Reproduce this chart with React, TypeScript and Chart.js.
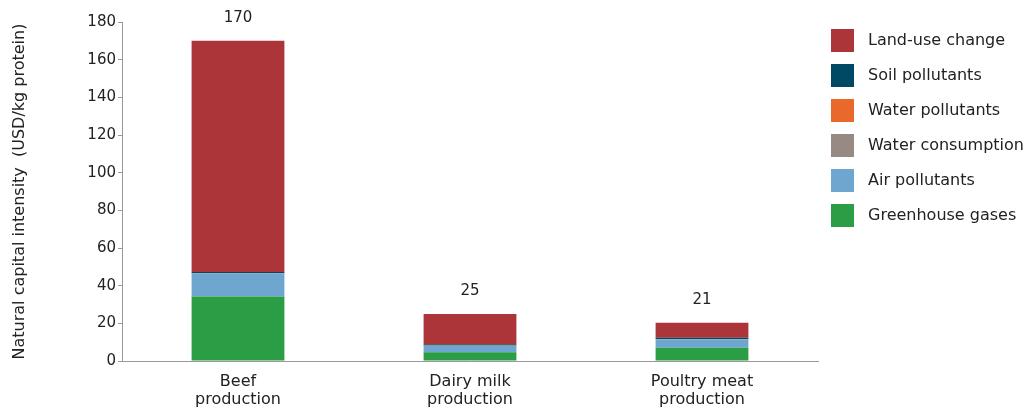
import React, { useEffect, useRef } from "react";
import { Chart, registerables } from "chart.js";

Chart.register(...registerables);

const categories: string[][] = [["Beef", "production"], ["Dairy milk", "production"], ["Poultry meat", "production"]];
const totalLabels = ["170", "25", "21"];
const yTicks = [0, 20, 40, 60, 80, 100, 120, 140, 160, 180];

const greenhouseGases = [34.2, 4.6, 7.1];
const airPollutants = [12.2, 3.4, 4.4];
const waterConsumption = [0.1, 0.1, 0.1];
const waterPollutants = [0.1, 0.1, 0.1];
const soilPollutants = [0.6, 0.7, 0.6];
const landUseChange = [122.8, 16.1, 8.0];

const seriesNames = ["Greenhouse gases", "Air pollutants", "Water consumption", "Water pollutants", "Soil pollutants", "Land-use change"];
const seriesColors = ["#2a9d45", "#6ea6cf", "#968a82", "#e9692c", "#004965", "#ab3539"];
const seriesValues = [greenhouseGases, airPollutants, waterConsumption, waterPollutants, soilPollutants, landUseChange];

const FONT = "'DejaVu Sans', Verdana, sans-serif";
const TEXT = "#222222";
const AXIS = "#999999";

export default function App() {
  const ref = useRef<HTMLCanvasElement | null>(null);
  useEffect(() => {
    document.body.style.margin = "0";
    const canvas = ref.current;
    if (!canvas) return;

    const totalsPlugin = {
      id: "totals",
      afterDatasetsDraw(chart: any) {
        const ctx = chart.ctx;
        const last = chart.getDatasetMeta(chart.data.datasets.length - 1);
        ctx.save();
        ctx.font = `15px ${FONT}`;
        ctx.fillStyle = TEXT;
        ctx.textAlign = "center";
        ctx.textBaseline = "middle";
        last.data.forEach((bar: any, i: number) => {
          ctx.fillText(totalLabels[i], bar.x, bar.y - 23);
        });
        ctx.restore();
      },
    };

    const legendPlugin = {
      id: "customLegend",
      afterDraw(chart: any) {
        const ctx = chart.ctx;
        const ds = chart.data.datasets.slice().reverse();
        ctx.save();
        ctx.font = `16px ${FONT}`;
        ctx.textBaseline = "middle";
        ctx.textAlign = "left";
        ds.forEach((d: any, i: number) => {
          const top = 29 + i * 35;
          ctx.fillStyle = d.backgroundColor;
          ctx.fillRect(831, top, 23, 23);
          ctx.fillStyle = TEXT;
          ctx.fillText(d.label, 868, top + 12);
        });
        ctx.restore();
      },
    };

    const chart = new Chart(canvas, {
      type: "bar",
      data: {
        labels: categories,
        datasets: seriesNames.map((name, i) => ({
          label: name,
          data: seriesValues[i],
          backgroundColor: seriesColors[i],
          borderWidth: 0,
          categoryPercentage: 1,
          barPercentage: 0.4,
        })),
      },
      options: {
        responsive: false,
        animation: false,
        layout: { padding: { left: 8, right: 209, top: 22, bottom: 0 } },
        plugins: { legend: { display: false }, tooltip: { enabled: false } },
        scales: {
          x: {
            stacked: true,
            grid: { display: false, drawTicks: false },
            border: { display: true, color: AXIS, width: 1 },
            ticks: { color: TEXT, font: { family: FONT, size: 16, lineHeight: 1.1 }, padding: 12, maxRotation: 0 },
            afterFit: (s: any) => { s.height = 47; },
          },
          y: {
            stacked: true,
            min: 0,
            max: 180,
            afterBuildTicks: (s: any) => { s.ticks = yTicks.map((v) => ({ value: v })); },
            grid: { display: true, drawOnChartArea: false, drawTicks: true, tickLength: 4, color: AXIS },
            border: { display: true, color: AXIS, width: 1 },
            ticks: { color: TEXT, font: { family: FONT, size: 15 }, padding: 2 },
            title: {
              display: true,
              text: "Natural capital intensity  (USD/kg protein)",
              color: TEXT,
              font: { family: FONT, size: 16 },
              padding: { top: 2, bottom: 0 },
            },
            afterFit: (s: any) => { s.width = 114; },
          },
        },
      },
      plugins: [totalsPlugin, legendPlugin],
    });
    return () => chart.destroy();
  }, []);
  return <canvas ref={ref} width={1027} height={408} />;
}
